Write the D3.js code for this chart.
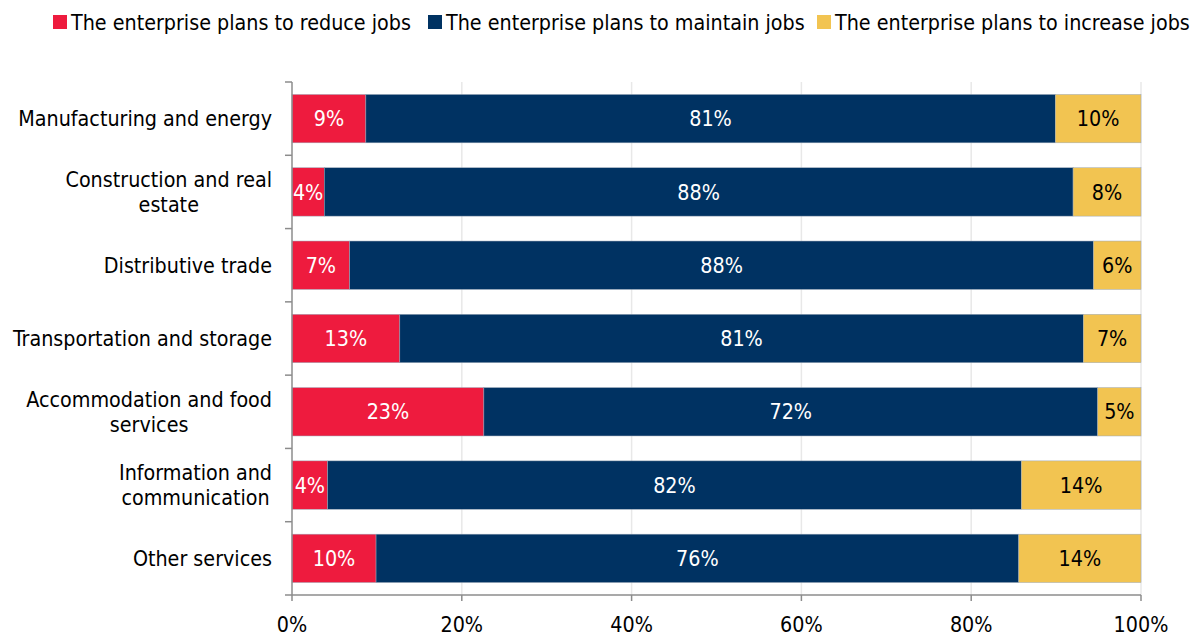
<!DOCTYPE html>
<html>
<head>
<meta charset="utf-8">
<script src="https://cdn.jsdelivr.net/npm/d3@7"></script>
<style>
  html, body { margin: 0; padding: 0; background: #fff; }
  svg { display: block; }
  text { font-family: "DejaVu Sans Condensed", "DejaVu Sans", sans-serif; }
</style>
</head>
<body>
<script>
const categories = [
  ["Manufacturing and energy"],
  ["Construction and real", "estate"],
  ["Distributive trade"],
  ["Transportation and storage"],
  ["Accommodation and food", "services"],
  ["Information and", "communication"],
  ["Other services"]
];
const seriesNames = [
  "The enterprise plans to reduce jobs",
  "The enterprise plans to maintain jobs",
  "The enterprise plans to increase jobs"
];
const reduceVals   = [8.7, 3.8, 6.8, 12.7, 22.6, 4.2, 9.9];
const maintainVals = [81.2, 88.2, 87.6, 80.5, 72.3, 81.7, 75.7];
const increaseVals = [10.1, 8.0, 5.6, 6.8, 5.1, 14.1, 14.4];
const xTicks = [0, 20, 40, 60, 80, 100];
const colors = ["#EE1B3E", "#003262", "#F2C451"];
const labelColors = ["#ffffff", "#ffffff", "#000000"];

const W = 1195, H = 637;
const FS = 21.3;
const svg = d3.select("body").append("svg").attr("width", W).attr("height", H);

const catKeys = categories.map(c => c.join(" "));
const x = d3.scaleLinear().domain([0, 100]).range([292, 1141]);
const y = d3.scaleBand().domain(catKeys).range([82, 595]).paddingInner(0.34).paddingOuter(0.17);

// gridlines
svg.append("g").selectAll("line").data(xTicks.slice(1)).join("line")
  .attr("x1", d => x(d)).attr("x2", d => x(d))
  .attr("y1", 82).attr("y2", 595)
  .attr("stroke", "#e8e8e8").attr("stroke-width", 1.5);

// stacked data
const rows = catKeys.map((k, i) => ({ key: k, s0: reduceVals[i], s1: maintainVals[i], s2: increaseVals[i] }));
const stacked = d3.stack().keys(["s0", "s1", "s2"])(rows);

const groups = svg.append("g").selectAll("g").data(stacked).join("g");
groups.each(function(layer, li) {
  const g = d3.select(this);
  g.selectAll("rect").data(layer).join("rect")
    .attr("x", d => x(d[0]))
    .attr("width", d => x(d[1]) - x(d[0]))
    .attr("y", d => y(d.data.key))
    .attr("height", y.bandwidth())
    .attr("fill", colors[li])
    .attr("stroke", "#9aa7b8").attr("stroke-width", 0.5);
  g.selectAll("text").data(layer).join("text")
    .attr("x", d => (x(d[0]) + x(d[1])) / 2)
    .attr("y", d => y(d.data.key) + y.bandwidth() / 2)
    .attr("dy", "0.36em")
    .attr("text-anchor", "middle")
    .attr("font-size", FS)
    .attr("fill", labelColors[li])
    .text(d => Math.round(d[1] - d[0]) + "%");
});

// left axis
const axisColor = "#8c8c8c";
const bounds = d3.range(categories.length + 1).map(i => 82 + i * y.step());
svg.append("line").attr("x1", 292).attr("x2", 292).attr("y1", 82).attr("y2", 595)
  .attr("stroke", axisColor).attr("stroke-width", 1.5);
svg.append("g").selectAll("line").data(bounds).join("line")
  .attr("x1", 285).attr("x2", 292).attr("y1", d => d).attr("y2", d => d)
  .attr("stroke", axisColor).attr("stroke-width", 1.5);

// bottom axis
svg.append("line").attr("x1", 292).attr("x2", 1141).attr("y1", 595).attr("y2", 595)
  .attr("stroke", axisColor).attr("stroke-width", 1.5);
svg.append("g").selectAll("line").data(xTicks).join("line")
  .attr("x1", d => x(d)).attr("x2", d => x(d)).attr("y1", 595).attr("y2", 601)
  .attr("stroke", axisColor).attr("stroke-width", 1.5);
svg.append("g").selectAll("text").data(xTicks).join("text")
  .attr("x", d => x(d)).attr("y", 632)
  .attr("text-anchor", "middle").attr("font-size", FS).attr("fill", "#000")
  .text(d => d + "%");

// category labels
const catG = svg.append("g");
categories.forEach((lines, i) => {
  const cy = y(catKeys[i]) + y.bandwidth() / 2;
  const lh = 25;
  const t = catG.append("text").attr("font-size", FS).attr("fill", "#000").attr("text-anchor", "middle");
  const n = lines.length;
  const spans = lines.map((ln, j) => t.append("tspan").attr("y", cy + (j - (n - 1) / 2) * lh).attr("dy", "0.36em").text(ln));
  const widths = spans.map(s => s.node().getComputedTextLength());
  const maxW = Math.max(...widths);
  spans.forEach(s => s.attr("x", 272 - maxW / 2));
});

// legend
const legendX = [53, 428, 817];
const lg = svg.append("g");
seriesNames.forEach((name, i) => {
  lg.append("rect").attr("x", legendX[i]).attr("y", 15).attr("width", 14).attr("height", 14).attr("fill", colors[i]);
  lg.append("text").attr("x", legendX[i] + 18).attr("y", 30).attr("font-size", FS).attr("fill", "#000").text(name);
});
</script>
</body>
</html>
